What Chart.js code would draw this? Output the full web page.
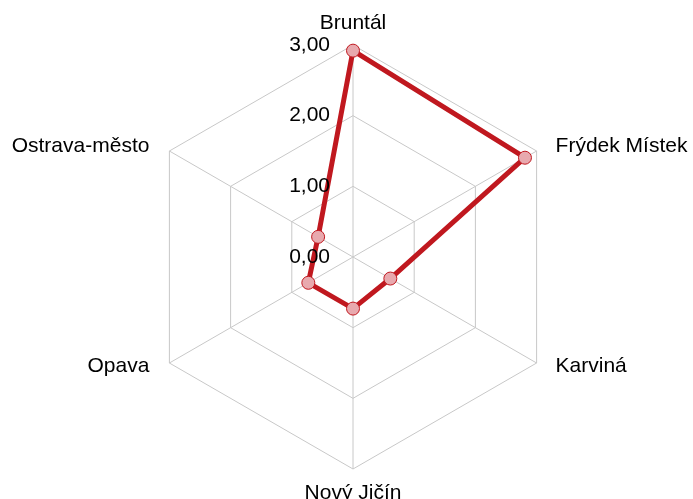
<!DOCTYPE html>
<html>
<head>
<meta charset="utf-8">
<script src="https://cdn.jsdelivr.net/npm/chart.js@4.4.1/dist/chart.umd.min.js"></script>
<style>
  html, body { margin: 0; padding: 0; background: #fff; overflow: hidden; }
  #wrap { width: 693px; height: 499px; }
</style>
</head>
<body>
<div id="wrap"><canvas id="mychart" width="693" height="499"></canvas></div>
<script>
// districts of the Moravian-Silesian region
var districts = ['Bruntál', 'Frýdek Místek', 'Karviná', 'Nový Jičín', 'Opava', 'Ostrava-město'];
var values = [2.92, 2.81, 0.61, 0.73, 0.73, 0.57];
var tickValues = [0, 1, 2, 3];

var labelFont = '21px "Liberation Sans", Arial, sans-serif';

function fmt(v) {
    return v.toFixed(2).replace('.', ',');
}

// draws the tick numbers left of the vertical axis and the district names
var labelsPlugin = {
    id: 'labels',
    afterDraw: function(chart) {
        var ctx = chart.ctx;
        var s = chart.scales.r;
        ctx.save();
        ctx.font = labelFont;
        ctx.fillStyle = '#000';

        // tick labels
        ctx.textAlign = 'right';
        ctx.textBaseline = 'middle';
        tickValues.forEach(function(v) {
            var d = s.getDistanceFromCenterForValue(v);
            ctx.fillText(fmt(v), s.xCenter - 23, s.yCenter - d);
        });

        // point labels
        for (var i = 0; i < districts.length; i++) {
            var p = s.getPointPosition(i, s.drawingArea);
            var x = p.x, y = p.y;
            var dx = p.x - s.xCenter;
            if (Math.abs(dx) < 1) {
                ctx.textAlign = 'center';
                y += (p.y < s.yCenter) ? -22 : 24;
            } else {
                ctx.textAlign = dx > 0 ? 'left' : 'right';
                x += dx > 0 ? 19 : -20;
                y += (p.y < s.yCenter) ? -5 : 3;
            }
            ctx.fillText(districts[i], x, y);
        }
        ctx.restore();
    }
};

var ctx = document.getElementById('mychart');
var chart = new Chart(ctx, {
    type: 'radar',
    data: {
        labels: districts,
        datasets: [{
            data: values,
            borderColor: '#c0181f',
            borderWidth: 5,
            backgroundColor: 'rgba(0,0,0,0)',
            fill: false,
            pointRadius: 6.5,
            pointBorderWidth: 1,
            pointBackgroundColor: '#e8a9ae',
            pointBorderColor: '#c0181f',
            tension: 0
        }]
    },
    options: {
        responsive: false,
        animation: false,
        layout: {
            padding: { top: 45, bottom: 30, left: 141, right: 128 }
        },
        plugins: {
            legend: { display: false },
            tooltip: { enabled: false }
        },
        scales: {
            r: {
                min: 0,
                max: 3,
                ticks: { display: false, stepSize: 1 },
                pointLabels: { display: false },
                grid: { color: '#c8c8c8', lineWidth: 1 },
                angleLines: { color: '#c8c8c8', lineWidth: 1 }
            }
        }
    },
    plugins: [labelsPlugin]
});
</script>
</body>
</html>
